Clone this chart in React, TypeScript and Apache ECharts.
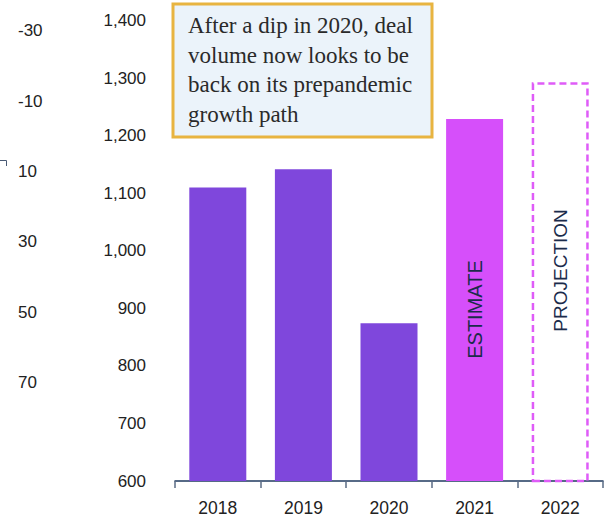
import React, { useEffect, useRef } from "react";
import * as echarts from "echarts";

const categories = ["2018", "2019", "2020", "2021", "2022"];
const dealVolume = [1110, 1142, 874, 1229, 1293];
const barKinds = ["actual", "actual", "actual", "estimate", "projection"];
const leftAxisMin = -30;
const leftAxisMax = 70;
const leftAxisStep = 20;
const noteText = "After a dip in 2020, deal\nvolume now looks to be\nback on its prepandemic\ngrowth path";
const estimateLabel = "ESTIMATE";
const projectionLabel = "PROJECTION";

const PURPLE = "#7F47DC";
const MAGENTA = "#D64FFA";
const DASH = "#DF5CF8";
const NAVY = "#1B2B4B";

export default function App() {
  const ref = useRef<HTMLDivElement>(null);
  useEffect(() => {
    if (!ref.current) return;
    const chart = echarts.init(ref.current, undefined, { renderer: "svg" });
    const data = dealVolume.map((v, i) => {
      const kind = barKinds[i];
      if (kind === "estimate") return { value: v, itemStyle: { color: MAGENTA } };
      if (kind === "projection")
        return {
          value: v,
          itemStyle: {
            color: "rgba(255,255,255,0)",
            borderColor: DASH,
            borderWidth: 2.5,
            borderType: [7, 4],
          },
        };
      return { value: v, itemStyle: { color: PURPLE } };
    });
    chart.setOption({
      animation: false,
      backgroundColor: "#ffffff",
      textStyle: { fontFamily: "Liberation Sans" },
      grid: [
        { left: 175, right: 3, top: 20.7, bottom: 38 },
        { left: 18, width: 1, top: 30.7, bottom: 136.5 },
      ],
      xAxis: [
        {
          type: "category",
          gridIndex: 0,
          data: categories,
          axisLine: { show: true, lineStyle: { color: "#1F3A5F", width: 1.5 } },
          axisTick: { show: true, length: 7, lineStyle: { color: "#5A6B85", width: 1.5 } },
          axisLabel: { color: "#222", fontSize: 17.5, margin: 18, fontFamily: "Liberation Sans" },
        },
        { type: "value", gridIndex: 1, show: false },
      ],
      yAxis: [
        {
          type: "value",
          gridIndex: 0,
          min: 600,
          max: 1400,
          interval: 100,
          axisLine: { show: false },
          axisTick: { show: false },
          splitLine: { show: false },
          axisLabel: {
            color: "#222",
            fontSize: 17,
            margin: 29,
            fontFamily: "Liberation Sans",
            formatter: (v: number) => v.toLocaleString("en-US"),
          },
        },
        {
          type: "value",
          gridIndex: 1,
          inverse: true,
          min: leftAxisMin,
          max: leftAxisMax,
          interval: leftAxisStep,
          axisLine: { show: false },
          axisTick: { show: false },
          splitLine: { show: false },
          axisLabel: { color: "#222", fontSize: 17, margin: 0, align: "left", fontFamily: "Liberation Sans" },
        },
      ],
      series: [
        {
          type: "bar",
          xAxisIndex: 0,
          yAxisIndex: 0,
          barWidth: 57,
          data,
        },
      ],
    });
    const est = chart.convertToPixel({ seriesIndex: 0 }, ["2021", 898]) as number[];
    const proj = chart.convertToPixel({ seriesIndex: 0 }, ["2022", 966]) as number[];
    chart.setOption({
      graphic: [
        {
          type: "rect",
          shape: { x: 173, y: 4, width: 259, height: 133 },
          style: { fill: "#EBF3FA", stroke: "#E8B440", lineWidth: 3 },
          z: 10,
        },
        {
          type: "text",
          x: 188,
          y: 11,
          z: 11,
          style: {
            text: noteText,
            fill: "#2a2a2a",
            font: "23px 'Liberation Serif'",
            lineHeight: 29.5,
            align: "left",
            verticalAlign: "top",
          },
        },
        {
          type: "text",
          x: est[0],
          y: est[1],
          rotation: Math.PI / 2,
          z: 11,
          style: {
            text: estimateLabel,
            fill: NAVY,
            font: "20px 'Liberation Sans'",
            align: "center",
            verticalAlign: "middle",
          },
        },
        {
          type: "text",
          x: proj[0],
          y: proj[1],
          rotation: Math.PI / 2,
          z: 11,
          style: {
            text: projectionLabel,
            fill: NAVY,
            font: "19px 'Liberation Sans'",
            align: "center",
            verticalAlign: "middle",
          },
        },
        {
          type: "polyline",
          shape: { points: [[0, 160.5], [6.5, 160.5], [6.5, 166]] },
          style: { stroke: "#4A5A75", lineWidth: 1, fill: null },
        },
      ],
    });
    return () => chart.dispose();
  }, []);
  return <div ref={ref} style={{ width: 606, height: 519, position: "absolute", left: 0, top: 0 }} />;
}
